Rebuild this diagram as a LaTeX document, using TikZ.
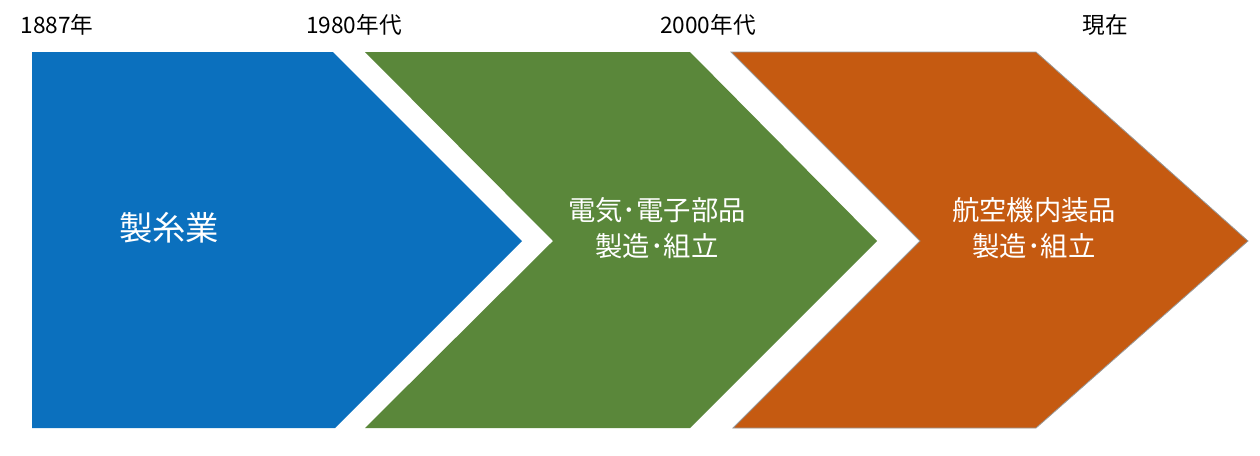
\documentclass[tikz,border=0pt]{standalone}
\usepackage{fontspec}
\setmainfont{Noto Sans CJK JP}
\usetikzlibrary{positioning}
\definecolor{silkblue}{RGB}{11,112,190}
\definecolor{elecgreen}{RGB}{90,135,58}
\definecolor{airorange}{RGB}{197,90,17}
\begin{document}
\begin{tikzpicture}[x=0.75pt,y=-0.75pt,
    year/.style={font=\fontsize{17}{20}\selectfont,text=black,inner sep=0pt},
    stage/.style={font=\fontsize{20.5}{27}\selectfont,text=white,align=center,inner sep=0pt}]
            \useasboundingbox (0,0) rectangle (1260,455);
            % chevrons
            \fill[silkblue] (32,52) -- (333,52) -- (522,241) -- (335,428) -- (32,428) -- cycle;
            \fill[elecgreen] (365,52) -- (690,52) -- (877,241) -- (690,428) -- (365,428) -- (553,241) -- cycle;
            \fill[airorange,draw=gray!80,line width=0.6pt] (731,52) -- (1036,52) -- (1248,241) -- (1036,428) -- (733,428) -- (920,241) -- cycle;
            % years
            \node[year] (y1887) at (57,25) {1887年};
            \node[year] (y1980) at (354,25) {1980年代};
            \node[year] (y2000) at (708,25) {2000年代};
            \node[year] (ynow) at (1105,25) {現在};
            % stage labels
            \node[stage,font=\fontsize{25}{30}\selectfont] (silk) at (169,228) {製糸業};
            \node[stage] (elec) at (657,228) {電気･電子部品\\製造･組立};
            \node[stage] (air) at (1034,228) {航空機内装品\\製造･組立};
          \end{tikzpicture}
\end{document}
